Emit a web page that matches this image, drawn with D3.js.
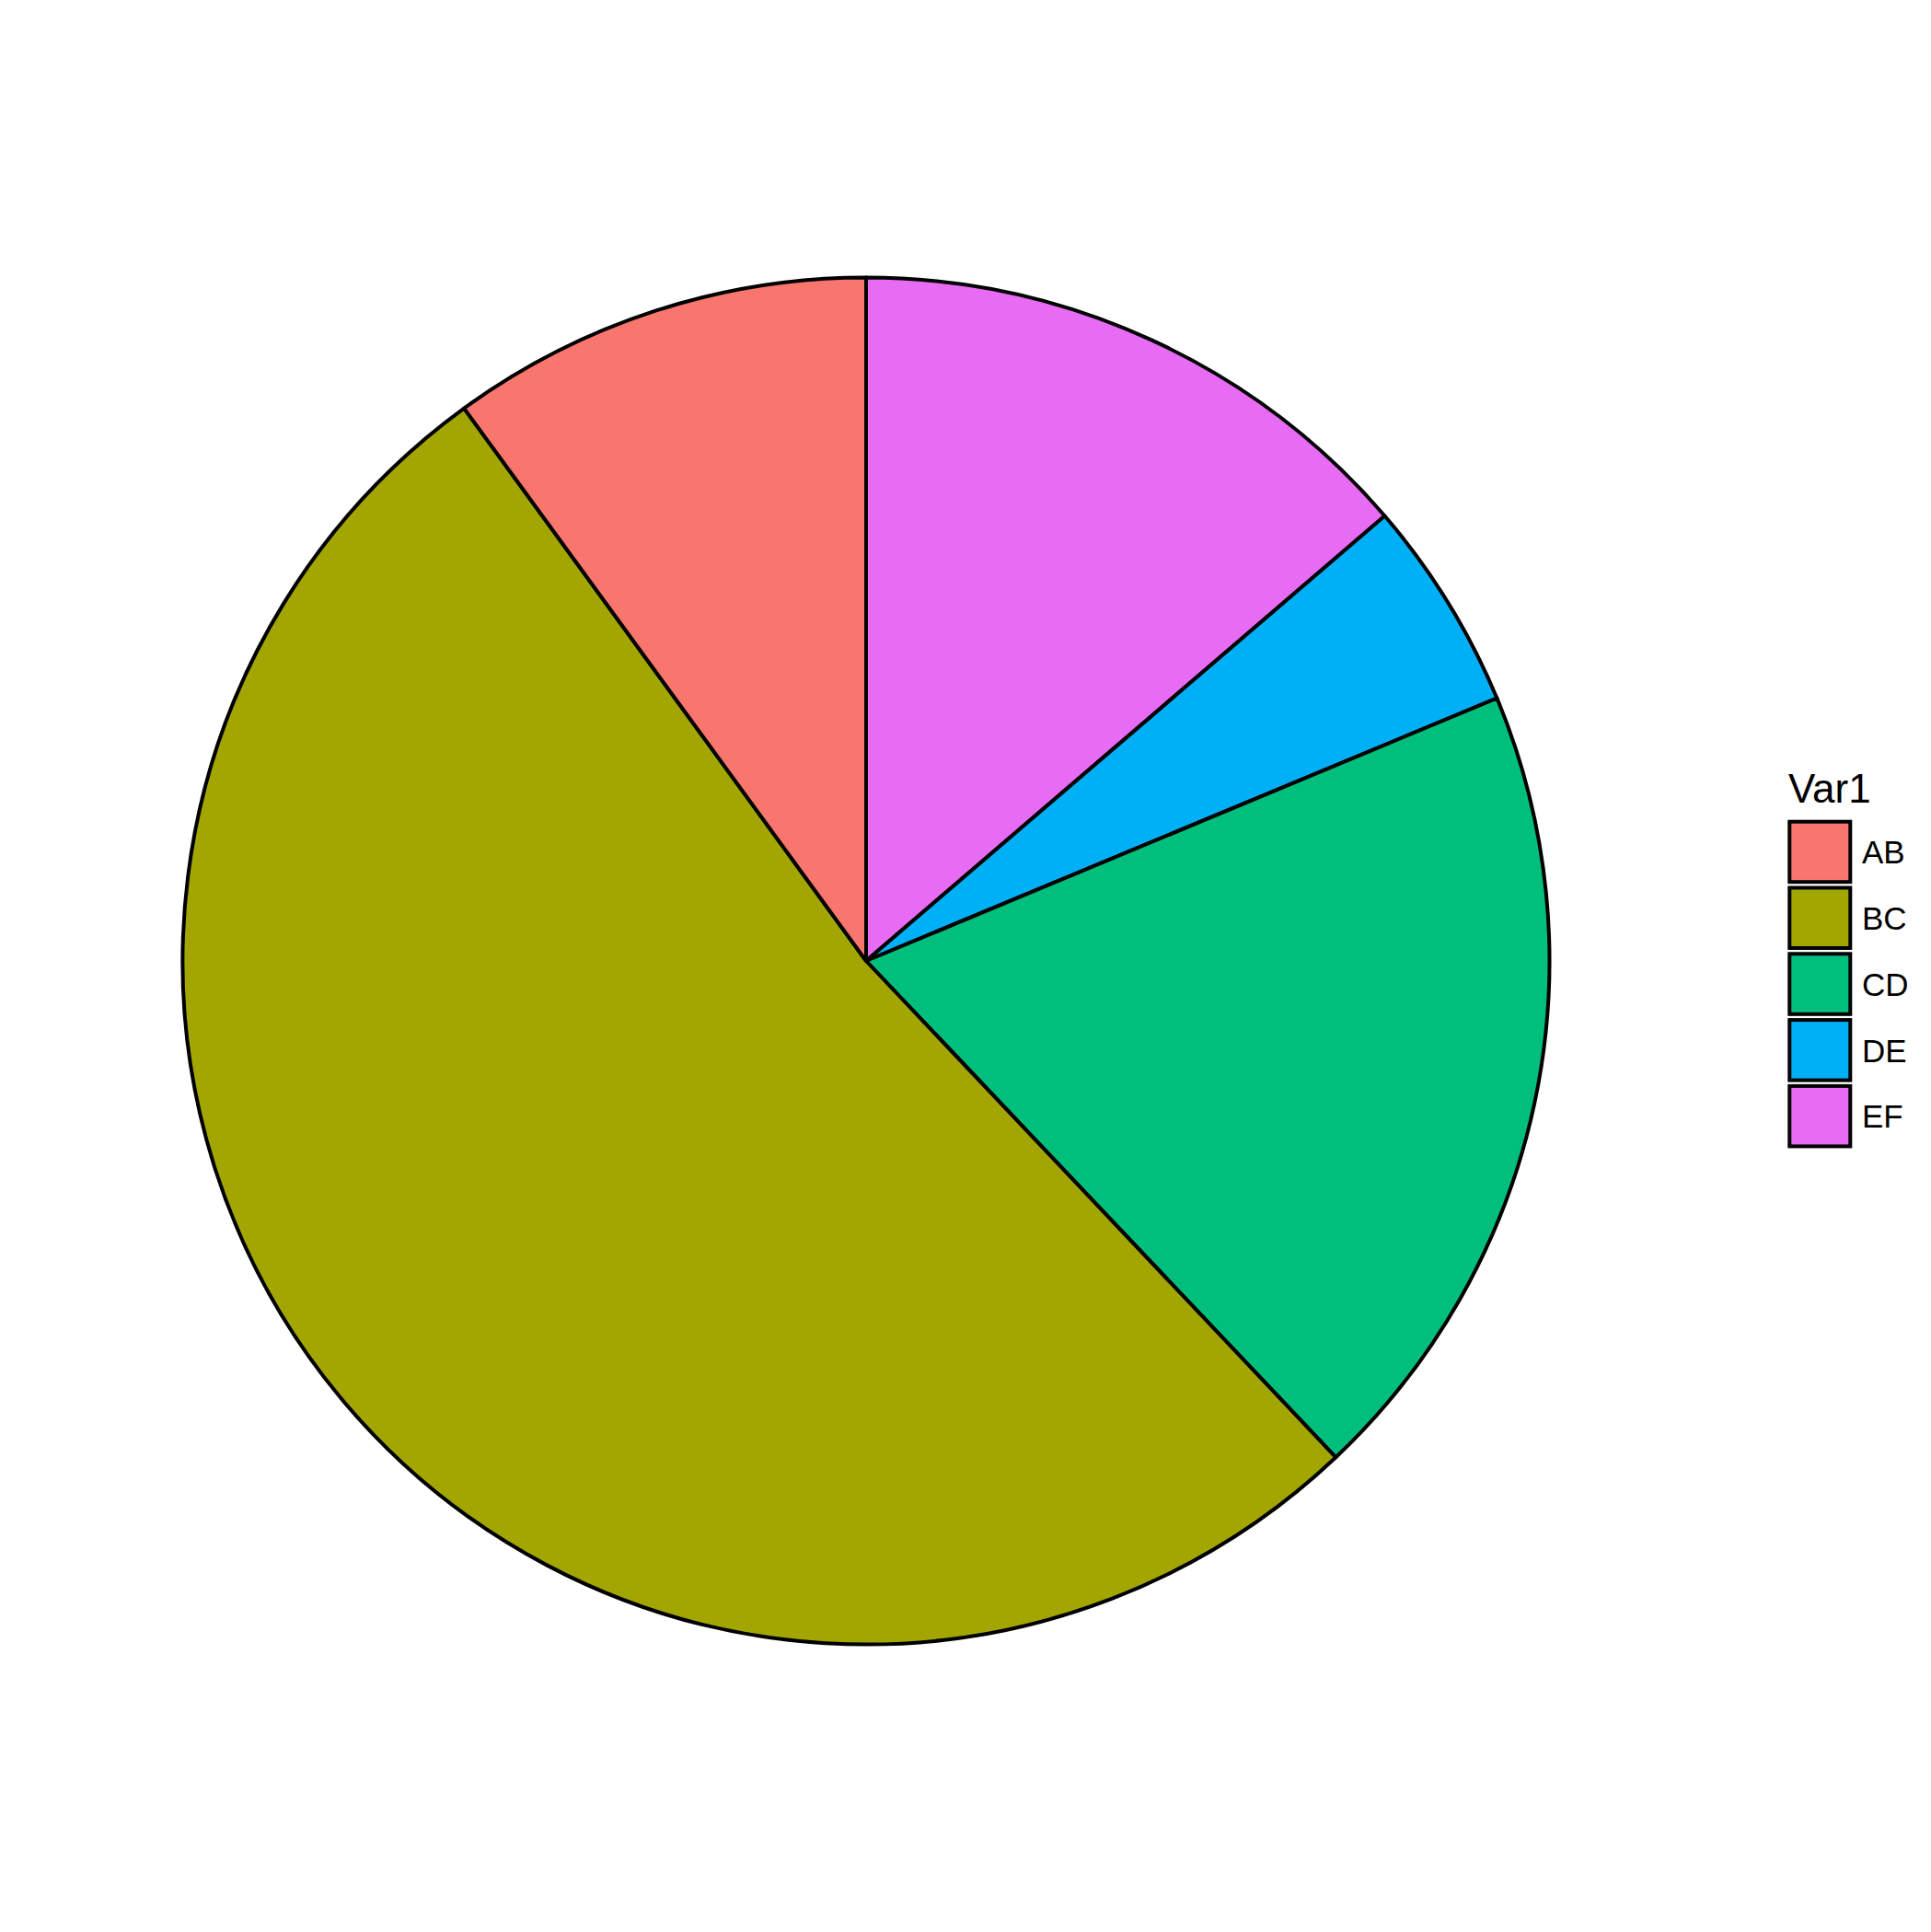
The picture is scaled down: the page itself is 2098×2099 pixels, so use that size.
<!DOCTYPE html>
<html>
<head>
<meta charset="utf-8">
<script src="https://cdn.jsdelivr.net/npm/d3@7"></script>
<style>
  html, body { margin: 0; padding: 0; background: #fff; }
  svg { display: block; }
</style>
</head>
<body>
<div id="chart"></div>
<script>
// values (share of the pie)
const categories = ["AB", "BC", "CD", "DE", "EF"];
const values = [10, 52, 19.2, 5, 13.7];
const colors = ["#F8766D", "#A3A500", "#00BF7D", "#00B0F6", "#E76BF3"];
const legendTitle = "Var1";

const width = 2098;
const height = 2099;
const cx = 941, cy = 1044, radius = 742.5;

const svg = d3.select("#chart")
    .append("svg")
    .attr("width", width)
    .attr("height", height)
    .attr("viewBox", `0 0 ${width} ${height}`);

const color = d3.scaleOrdinal().domain(categories).range(colors);

// ggplot stacks the last level first, so going clockwise from 12 o'clock: EF, DE, CD, BC, AB
const rows = categories.map((c, i) => ({ cat: c, value: values[i] })).reverse();

const pie = d3.pie()
    .sort(null)
    .value((d) => d.value)
    .startAngle(0)
    .endAngle(2 * Math.PI);

const arc = d3.arc().innerRadius(0).outerRadius(radius);

const g = svg.append("g").attr("transform", `translate(${cx},${cy})`);

g.selectAll("path.slice")
    .data(pie(rows))
    .enter()
    .append("path")
    .attr("class", "slice")
    .attr("d", arc)
    .attr("fill", (d) => color(d.data.cat))
    .attr("stroke", "#000")
    .attr("stroke-width", 4)
    .attr("stroke-linejoin", "round");

// legend
const legend = svg.append("g").attr("transform", "translate(1942,0)");

legend.append("text")
    .attr("x", 1)
    .attr("y", 871.5)
    .style("font-family", "'Liberation Sans', Arial, sans-serif")
    .style("font-size", "44px")
    .style("fill", "#000")
    .text(legendTitle);

const keyPitch = 71.8;
const keyTop = 890.7;

const keys = legend.selectAll("g.key")
    .data(categories)
    .enter()
    .append("g")
    .attr("class", "key")
    .attr("transform", (d, i) => `translate(0,${keyTop + i * keyPitch})`);

keys.append("rect")
    .attr("x", 2.3)
    .attr("y", 2)
    .attr("width", 66)
    .attr("height", 65.5)
    .attr("fill", (d) => color(d))
    .attr("stroke", "#000")
    .attr("stroke-width", 4);

keys.append("text")
    .attr("x", 81)
    .attr("y", 47.5)
    .style("font-family", "'Liberation Sans', Arial, sans-serif")
    .style("font-size", "35px")
    .style("fill", "#000")
    .text((d) => d);
</script>
</body>
</html>
